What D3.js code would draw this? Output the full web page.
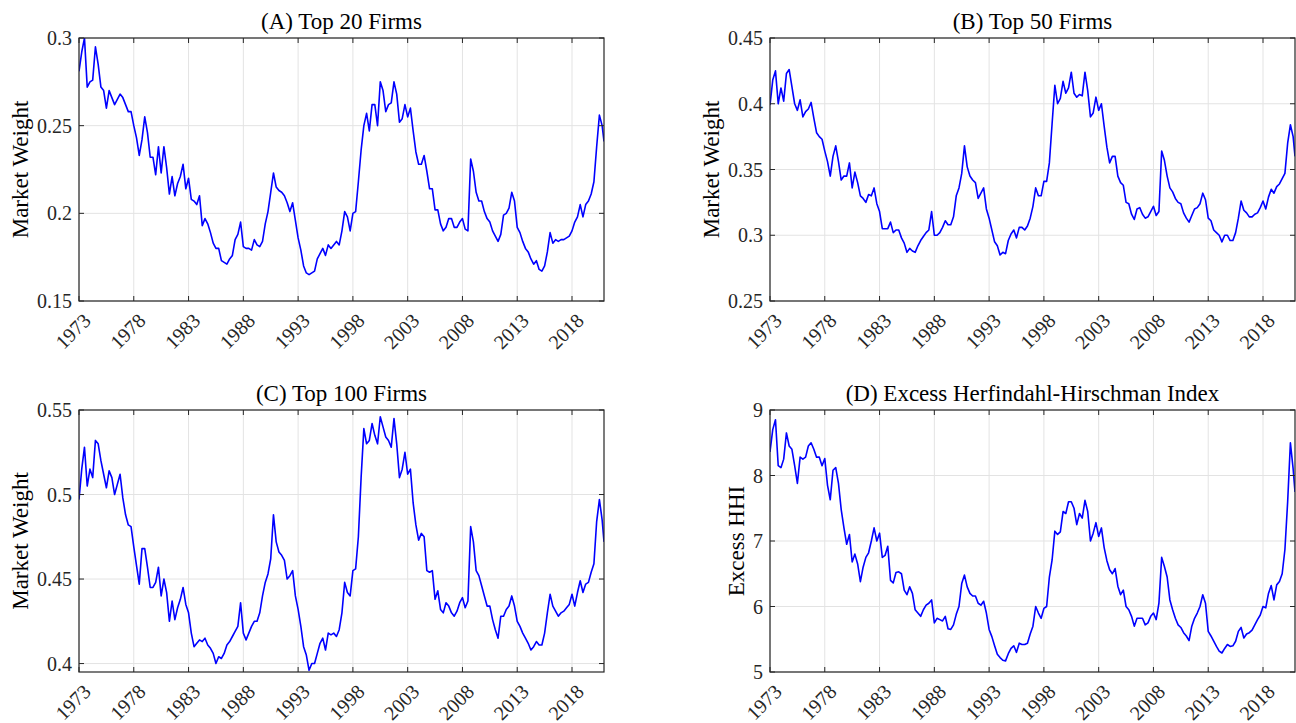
<!DOCTYPE html>
<html>
<head>
<meta charset="utf-8">
<script src="https://cdn.jsdelivr.net/npm/d3@7"></script>
<style>
  body { margin: 0; background: #fff; }
  svg { font-family: "Liberation Serif", "Times New Roman", serif; }
</style>
</head>
<body>
<svg id="chart" width="1296" height="723"></svg>
<script>
"use strict";

// quarterly sample dates (fractional years), last point = Dec 2020
const dates = d3.range(192).map(i => 1973 + i / 4).concat([2020.92]);
const yearTicks = [1973, 1978, 1983, 1988, 1993, 1998, 2003, 2008, 2013, 2018];

// (A) Top 20 firms market weight
const top20 = [
  0.281, 0.292, 0.300, 0.272,  0.275, 0.276, 0.295, 0.285,  0.272, 0.270, 0.260, 0.270,
  0.266, 0.262, 0.265, 0.268,  0.266, 0.262, 0.258, 0.258,  0.250, 0.243, 0.233, 0.242,
  0.255, 0.246, 0.232, 0.232,  0.222, 0.238, 0.223, 0.238,  0.226, 0.211, 0.221, 0.210,
  0.217, 0.221, 0.228, 0.214,  0.220, 0.208, 0.207, 0.205,  0.210, 0.193, 0.197, 0.194,
  0.189, 0.183, 0.180, 0.180,  0.173, 0.172, 0.171, 0.174,  0.176, 0.185, 0.188, 0.195,
  0.181, 0.180, 0.180, 0.179,  0.185, 0.182, 0.181, 0.184,  0.194, 0.201, 0.212, 0.223,
  0.215, 0.213, 0.212, 0.210,  0.206, 0.201, 0.206, 0.196,  0.186, 0.179, 0.170, 0.166,
  0.165, 0.166, 0.167, 0.174,  0.177, 0.180, 0.176, 0.182,  0.180, 0.182, 0.184, 0.182,
  0.190, 0.201, 0.198, 0.190,  0.200, 0.201, 0.218, 0.236,  0.250, 0.257, 0.247, 0.262,
  0.262, 0.250, 0.275, 0.270,  0.258, 0.262, 0.263, 0.275,  0.268, 0.252, 0.254, 0.262,
  0.255, 0.260, 0.247, 0.235,  0.228, 0.228, 0.233, 0.224,  0.214, 0.214, 0.202, 0.202,
  0.194, 0.190, 0.192, 0.197,  0.197, 0.192, 0.192, 0.195,  0.197, 0.191, 0.190, 0.231,
  0.224, 0.212, 0.207, 0.207,  0.201, 0.197, 0.195, 0.190,  0.187, 0.184, 0.188, 0.199,
  0.200, 0.203, 0.212, 0.207,  0.192, 0.189, 0.184, 0.180,  0.178, 0.174, 0.171, 0.173,
  0.168, 0.167, 0.170, 0.178,  0.189, 0.183, 0.185, 0.184,  0.185, 0.185, 0.186, 0.187,
  0.190, 0.195, 0.198, 0.205,  0.198, 0.205, 0.207, 0.211,  0.218, 0.238, 0.256, 0.250,
  0.241
];

// (B) Top 50 firms market weight
const top50 = [
  0.399, 0.418, 0.425, 0.400,  0.412, 0.402, 0.423, 0.426,  0.413, 0.400, 0.395, 0.403,
  0.390, 0.394, 0.396, 0.401,  0.389, 0.378, 0.375, 0.373,  0.364, 0.356, 0.345, 0.360,
  0.368, 0.356, 0.342, 0.345,  0.345, 0.355, 0.336, 0.348,  0.340, 0.330, 0.328, 0.325,
  0.331, 0.330, 0.336, 0.324,  0.318, 0.305, 0.305, 0.305,  0.310, 0.302, 0.304, 0.304,
  0.298, 0.294, 0.287, 0.290,  0.288, 0.287, 0.292, 0.296,  0.299, 0.302, 0.304, 0.318,
  0.300, 0.300, 0.302, 0.306,  0.311, 0.308, 0.308, 0.314,  0.330, 0.336, 0.347, 0.368,
  0.352, 0.345, 0.342, 0.340,  0.328, 0.332, 0.336, 0.320,  0.313, 0.304, 0.295, 0.292,
  0.285, 0.287, 0.286, 0.296,  0.301, 0.304, 0.298, 0.306,  0.306, 0.304, 0.307, 0.313,
  0.322, 0.336, 0.330, 0.330,  0.341, 0.341, 0.355, 0.385,  0.414, 0.400, 0.404, 0.417,
  0.408, 0.412, 0.424, 0.408,  0.405, 0.407, 0.406, 0.424,  0.410, 0.390, 0.393, 0.405,
  0.395, 0.400, 0.383, 0.367,  0.355, 0.360, 0.360, 0.345,  0.340, 0.338, 0.325, 0.324,
  0.316, 0.312, 0.320, 0.321,  0.316, 0.313, 0.314, 0.318,  0.322, 0.315, 0.318, 0.364,
  0.357, 0.345, 0.336, 0.333,  0.328, 0.325, 0.324, 0.317,  0.313, 0.310, 0.315, 0.320,
  0.321, 0.324, 0.332, 0.327,  0.313, 0.311, 0.304, 0.302,  0.300, 0.295, 0.300, 0.300,
  0.296, 0.296, 0.302, 0.313,  0.326, 0.319, 0.317, 0.314,  0.314, 0.316, 0.317, 0.321,
  0.326, 0.320, 0.329, 0.335,  0.332, 0.337, 0.339, 0.343,  0.347, 0.370, 0.384, 0.375,
  0.360
];

// (C) Top 100 firms market weight
const top100 = [
  0.497, 0.515, 0.528, 0.505,  0.515, 0.510, 0.532, 0.530,  0.520, 0.512, 0.504, 0.514,
  0.510, 0.500, 0.506, 0.512,  0.498, 0.488, 0.482, 0.481,  0.469, 0.458, 0.447, 0.468,
  0.468, 0.457, 0.445, 0.445,  0.448, 0.457, 0.440, 0.450,  0.442, 0.425, 0.437, 0.426,
  0.433, 0.438, 0.445, 0.435,  0.430, 0.418, 0.410, 0.412,  0.414, 0.413, 0.415, 0.411,
  0.409, 0.406, 0.400, 0.404,  0.403, 0.406, 0.411, 0.413,  0.416, 0.419, 0.422, 0.436,
  0.418, 0.414, 0.418, 0.422,  0.425, 0.425, 0.430, 0.440,  0.448, 0.453, 0.462, 0.488,
  0.472, 0.466, 0.464, 0.461,  0.450, 0.452, 0.455, 0.440,  0.432, 0.422, 0.410, 0.405,
  0.396, 0.400, 0.400, 0.406,  0.412, 0.415, 0.408, 0.418,  0.417, 0.418, 0.416, 0.420,
  0.430, 0.448, 0.442, 0.440,  0.455, 0.456, 0.475, 0.510,  0.539, 0.530, 0.532, 0.542,
  0.535, 0.530, 0.546, 0.540,  0.534, 0.532, 0.528, 0.545,  0.530, 0.510, 0.515, 0.525,
  0.512, 0.515, 0.495, 0.482,  0.473, 0.477, 0.475, 0.455,  0.454, 0.455, 0.438, 0.443,
  0.432, 0.430, 0.436, 0.434,  0.430, 0.428, 0.431, 0.436,  0.439, 0.433, 0.437, 0.481,
  0.472, 0.455, 0.452, 0.446,  0.440, 0.434, 0.434, 0.426,  0.420, 0.415, 0.428, 0.428,
  0.432, 0.434, 0.440, 0.434,  0.425, 0.422, 0.418, 0.415,  0.412, 0.408, 0.410, 0.413,
  0.411, 0.411, 0.418, 0.430,  0.441, 0.434, 0.431, 0.428,  0.430, 0.431, 0.433, 0.435,
  0.441, 0.434, 0.442, 0.449,  0.442, 0.447, 0.448, 0.454,  0.459, 0.484, 0.497, 0.485,
  0.472
];

// (D) Excess HHI
const excessHHI = [
  8.36, 8.70, 8.85, 8.15,  8.12, 8.25, 8.65, 8.45,  8.40, 8.15, 7.88, 8.28,
  8.25, 8.28, 8.45, 8.50,  8.40, 8.28, 8.28, 8.15,  8.26, 7.85, 7.63, 8.08,
  8.12, 7.88, 7.48, 7.20,  6.95, 7.10, 6.68, 6.80,  6.65, 6.38, 6.60, 6.75,
  6.82, 7.00, 7.20, 7.00,  7.12, 6.75, 6.78, 6.92,  6.40, 6.36, 6.52, 6.53,
  6.50, 6.25, 6.18, 6.30,  6.20, 5.95, 5.90, 5.85,  5.95, 6.02, 6.05, 6.10,
  5.75, 5.82, 5.80, 5.78,  5.85, 5.66, 5.65, 5.72,  5.88, 6.00, 6.35, 6.48,
  6.30, 6.20, 6.16, 6.16,  6.05, 6.02, 6.08, 5.90,  5.65, 5.54, 5.40, 5.27,
  5.22, 5.18, 5.17, 5.28,  5.36, 5.40, 5.30, 5.44,  5.42, 5.42, 5.44, 5.58,
  5.70, 6.00, 5.90, 5.82,  5.97, 6.00, 6.45, 6.71,  7.15, 7.10, 7.14, 7.45,
  7.42, 7.60, 7.60, 7.50,  7.25, 7.42, 7.35, 7.62,  7.45, 7.00, 7.12, 7.28,
  7.07, 7.20, 6.90, 6.70,  6.56, 6.50, 6.58, 6.31,  6.18, 6.25, 6.00, 5.95,
  5.85, 5.70, 5.82, 5.82,  5.82, 5.72, 5.75, 5.85,  5.90, 5.80, 6.05, 6.75,
  6.61, 6.45, 6.10, 5.95,  5.82, 5.72, 5.68, 5.60,  5.55, 5.48, 5.70, 5.82,
  5.90, 6.00, 6.18, 6.05,  5.62, 5.55, 5.47, 5.39,  5.32, 5.29, 5.36, 5.42,
  5.39, 5.40, 5.47, 5.62,  5.68, 5.52, 5.58, 5.60,  5.64, 5.72, 5.80, 5.87,
  6.00, 5.98, 6.20, 6.32,  6.10, 6.33, 6.38, 6.50,  6.87, 7.60, 8.50, 8.10,
  7.75
];

const panels = [
  { title: "(A) Top 20 Firms", ylabel: "Market Weight", values: top20,
    yDomain: [0.15, 0.3], yTicks: [0.15, 0.2, 0.25, 0.3], left: 79, top: 38, height: 263 },
  { title: "(B) Top 50 Firms", ylabel: "Market Weight", values: top50,
    yDomain: [0.25, 0.45], yTicks: [0.25, 0.3, 0.35, 0.4, 0.45], left: 770, top: 38, height: 263 },
  { title: "(C) Top 100 Firms", ylabel: "Market Weight", values: top100,
    yDomain: [0.395, 0.55], yTicks: [0.4, 0.45, 0.5, 0.55], left: 79, top: 410, height: 262 },
  { title: "(D) Excess Herfindahl-Hirschman Index", ylabel: "Excess HHI", values: excessHHI,
    yDomain: [5, 9], yTicks: [5, 6, 7, 8, 9], left: 770, top: 410, height: 262 }
];

const plotW = 525;
const tickLen = 5;
const axisColor = "#262626";
const gridColor = "#e3e3e3";

const svg = d3.select("#chart");

panels.forEach((p, idx) => {
  const g = svg.append("g").attr("transform", `translate(${p.left},${p.top})`);
  const h = p.height;

  const x = d3.scaleLinear().domain([1973, 2020.92]).range([0, plotW]);
  const y = d3.scaleLinear().domain(p.yDomain).range([h, 0]);

  // grid
  g.append("g").selectAll("line").data(yearTicks).enter().append("line")
    .attr("x1", d => x(d)).attr("x2", d => x(d))
    .attr("y1", 0).attr("y2", h)
    .attr("stroke", gridColor).attr("stroke-width", 1);
  g.append("g").selectAll("line").data(p.yTicks).enter().append("line")
    .attr("x1", 0).attr("x2", plotW)
    .attr("y1", d => y(d)).attr("y2", d => y(d))
    .attr("stroke", gridColor).attr("stroke-width", 1);

  // series line
  g.append("clipPath").attr("id", "clip" + idx)
    .append("rect").attr("width", plotW).attr("height", h);

  const line = d3.line()
    .x((d, i) => x(dates[i]))
    .y(d => y(d));

  g.append("path")
    .datum(p.values)
    .attr("clip-path", `url(#clip${idx})`)
    .attr("fill", "none")
    .attr("stroke", "#0000ff")
    .attr("stroke-width", 1.6)
    .attr("stroke-linejoin", "round")
    .attr("d", line);

  // inward ticks on all four sides
  const ticks = g.append("g").attr("stroke", axisColor).attr("stroke-width", 1);
  yearTicks.forEach(t => {
    ticks.append("line").attr("x1", x(t)).attr("x2", x(t)).attr("y1", h).attr("y2", h - tickLen);
    ticks.append("line").attr("x1", x(t)).attr("x2", x(t)).attr("y1", 0).attr("y2", tickLen);
  });
  p.yTicks.forEach(v => {
    ticks.append("line").attr("x1", 0).attr("x2", tickLen).attr("y1", y(v)).attr("y2", y(v));
    ticks.append("line").attr("x1", plotW).attr("x2", plotW - tickLen).attr("y1", y(v)).attr("y2", y(v));
  });

  // box
  g.append("rect")
    .attr("width", plotW).attr("height", h)
    .attr("fill", "none").attr("stroke", axisColor).attr("stroke-width", 1.2);

  // y tick labels
  const yLabels = g.append("g").selectAll("text").data(p.yTicks).enter().append("text")
    .attr("x", -7).attr("y", d => y(d))
    .attr("text-anchor", "end")
    .attr("dominant-baseline", "central")
    .attr("font-size", 20)
    .attr("fill", axisColor)
    .text(d => String(d));

  let maxW = 0;
  yLabels.each(function() { maxW = Math.max(maxW, this.getComputedTextLength()); });

  // x tick labels, rotated
  g.append("g").selectAll("text").data(yearTicks).enter().append("text")
    .attr("transform", d => `translate(${x(d) + 8},${h + 16}) rotate(-45)`)
    .attr("text-anchor", "end")
    .attr("dominant-baseline", "central")
    .attr("font-size", 20)
    .attr("fill", axisColor)
    .text(d => d);

  // y axis label
  g.append("text")
    .attr("transform", `translate(${-7 - maxW - 9},${h / 2}) rotate(-90)`)
    .attr("text-anchor", "middle")
    .attr("font-size", 23)
    .attr("fill", "#000")
    .text(p.ylabel);

  // title
  g.append("text")
    .attr("x", plotW / 2).attr("y", -9)
    .attr("text-anchor", "middle")
    .attr("font-size", 23)
    .attr("fill", "#000")
    .text(p.title);
});
</script>
</body>
</html>
